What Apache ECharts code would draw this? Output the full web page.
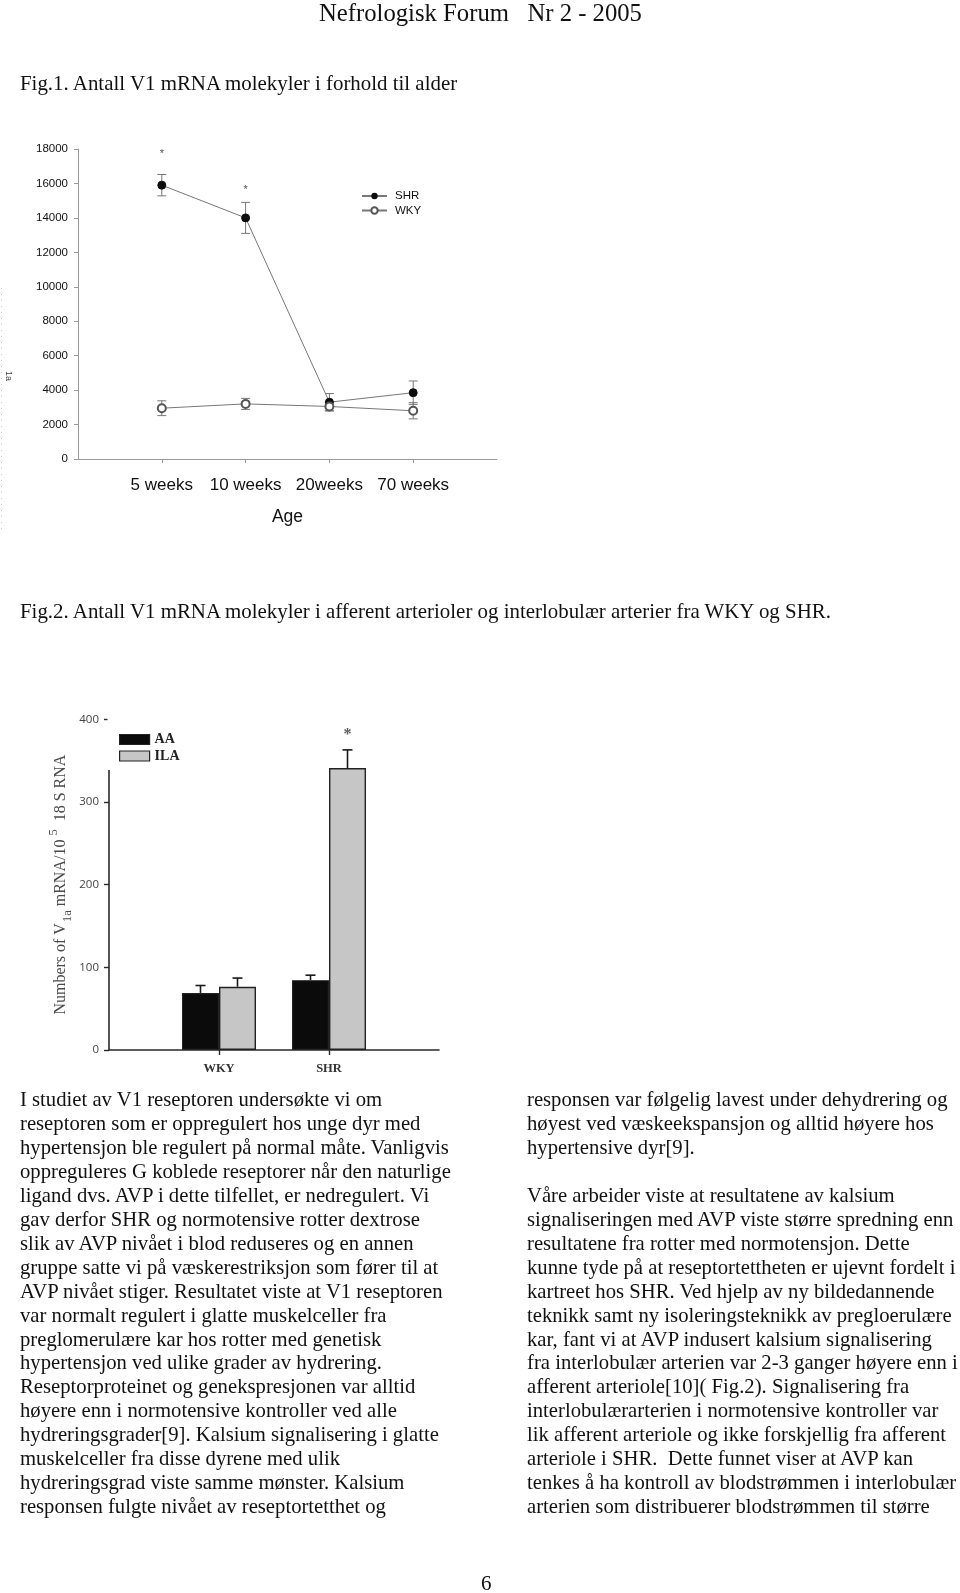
<!DOCTYPE html>
<html>
<head>
<meta charset="utf-8">
<script src="https://cdn.jsdelivr.net/npm/echarts@6/dist/echarts.min.js"></script>
<style>
  html, body { margin: 0; padding: 0; background: #fff; }
  #page { position: relative; width: 960px; height: 1593px; overflow: hidden; background: #fff; }
  #chart { position: absolute; left: 0; top: 0; width: 960px; height: 1593px; }
  .t { position: absolute; font-family: "Liberation Serif", "Times New Roman", serif; color: #111; white-space: pre; }
  .body { font-size: 20.7px; line-height: 23.95px; }
</style>
</head>
<body>
<div id="page">
  <div id="chart"></div>
  <div class="t" style="left:319px;top:-1px;font-size:24.7px;line-height:28px;">Nefrologisk Forum&nbsp;&nbsp;&nbsp;Nr 2 - 2005</div>
  <div class="t" style="left:20px;top:70px;font-size:20.9px;line-height:26px;">Fig.1. Antall V1 mRNA molekyler i forhold til alder</div>
  <div class="t" style="left:20px;top:598px;font-size:20.9px;line-height:26px;">Fig.2. Antall V1 mRNA molekyler i afferent arterioler og interlobulær arterier fra WKY og SHR.</div>
  <div class="t body" style="left:20px;top:1088px;">I studiet av V1 reseptoren undersøkte vi om
reseptoren som er oppregulert hos unge dyr med
hypertensjon ble regulert på normal måte. Vanligvis
oppreguleres G koblede reseptorer når den naturlige
ligand dvs. AVP i dette tilfellet, er nedregulert. Vi
gav derfor SHR og normotensive rotter dextrose
slik av AVP nivået i blod reduseres og en annen
gruppe satte vi på væskerestriksjon som fører til at
AVP nivået stiger. Resultatet viste at V1 reseptoren
var normalt regulert i glatte muskelceller fra
preglomerulære kar hos rotter med genetisk
hypertensjon ved ulike grader av hydrering.
Reseptorproteinet og genekspresjonen var alltid
høyere enn i normotensive kontroller ved alle
hydreringsgrader[9]. Kalsium signalisering i glatte
muskelceller fra disse dyrene med ulik
hydreringsgrad viste samme mønster. Kalsium
responsen fulgte nivået av reseptortetthet og</div>
  <div class="t body" style="left:527px;top:1088px;">responsen var følgelig lavest under dehydrering og
høyest ved væskeekspansjon og alltid høyere hos
hypertensive dyr[9].

Våre arbeider viste at resultatene av kalsium
signaliseringen med AVP viste større spredning enn
resultatene fra rotter med normotensjon. Dette
kunne tyde på at reseptortettheten er ujevnt fordelt i
kartreet hos SHR. Ved hjelp av ny bildedannende
teknikk samt ny isoleringsteknikk av pregloerulære
kar, fant vi at AVP indusert kalsium signalisering
fra interlobulær arterien var 2-3 ganger høyere enn i
afferent arteriole[10]( Fig.2). Signalisering fra
interlobulærarterien i normotensive kontroller var
lik afferent arteriole og ikke forskjellig fra afferent
arteriole i SHR.  Dette funnet viser at AVP kan
tenkes å ha kontroll av blodstrømmen i interlobulær
arterien som distribuerer blodstrømmen til større</div>
  <div class="t" style="left:481px;top:1570px;font-size:21px;line-height:26px;">6</div>
</div>
<script>
// ---------- Fig. 1 data ----------
const ages = ['5 weeks', '10 weeks', '20weeks', '70 weeks'];
const shrMean = [15900, 14000, 3300, 3850];
const shrErr = [620, 900, 500, 680];
const wkyMean = [2950, 3200, 3050, 2800];
const wkyErr = [430, 320, 260, 470];
const fig1Stars = [17700, 15600, null, null];
const fig1YMax = 18000;
const fig1YStep = 2000;

// ---------- Fig. 2 data ----------
const groups = ['WKY', 'SHR'];
const aaMean = [69, 84.5];
const aaErr = [9, 6];
const ilaMean = [76.5, 341];
const ilaErr = [10.5, 22];
const fig2Stars = [null, 381];
const fig2YMax = 400;
const fig2YStep = 100;

// ---------- build ----------
const pad = arr => [null, ...arr, null];
const cats1 = ['', ...ages, ''];
const cats2 = ['', ...groups, ''];
const BARW = 37;

function errData(means, errs) {
  return means.map((m, i) => [i + 1, m - errs[i], m + errs[i]]);
}
function starData(vals) {
  return vals.map((v, i) => v == null ? null : [i + 1, v]).filter(d => d);
}

function errRender1(color) {
  return function (params, api) {
    const x = api.value(0);
    const lo = api.coord([x, api.value(1)]);
    const hi = api.coord([x, api.value(2)]);
    const h = 4.5;
    const st = { stroke: color, lineWidth: 1 };
    return { type: 'group', children: [
      { type: 'line', shape: { x1: lo[0], y1: lo[1], x2: hi[0], y2: hi[1] }, style: st },
      { type: 'line', shape: { x1: lo[0] - h, y1: lo[1], x2: lo[0] + h, y2: lo[1] }, style: st },
      { type: 'line', shape: { x1: hi[0] - h, y1: hi[1], x2: hi[0] + h, y2: hi[1] }, style: st }
    ]};
  };
}
function errRender2(offset) {
  return function (params, api) {
    const x = api.value(0);
    const base = api.coord([x, api.value(1)]);
    const top = api.coord([x, api.value(2)]);
    const cx = base[0] + offset;
    const h = 5;
    const st = { stroke: '#1a1a1a', lineWidth: 1.6 };
    return { type: 'group', children: [
      { type: 'line', shape: { x1: cx, y1: base[1], x2: cx, y2: top[1] }, style: st },
      { type: 'line', shape: { x1: cx - h, y1: top[1], x2: cx + h, y2: top[1] }, style: st }
    ]};
  };
}

const chart = echarts.init(document.getElementById('chart'), null, { renderer: 'canvas' });
const sans = 'Liberation Sans, Arial, sans-serif';
const serif = 'Liberation Serif, Times New Roman, serif';

const option = {
  animation: false,
  backgroundColor: 'transparent',
  grid: [
    { left: 78, top: 149, width: 419, height: 310 },
    { left: 109, top: 719.3, width: 330, height: 330.7 }
  ],
  legend: [
    {
      data: ['SHR', 'WKY'], left: 361, top: 190, orient: 'vertical', padding: 0,
      itemWidth: 25, itemHeight: 8, itemGap: 2.5,
      textStyle: { fontFamily: sans, fontSize: 11.5, color: '#111', padding: [0, 0, 0, 3] }
    },
    {
      data: [
        { name: 'AA', itemStyle: { color: '#0b0b0b', borderColor: '#222', borderWidth: 1.2 } },
        { name: 'ILA', itemStyle: { color: '#c6c6c6', borderColor: '#222', borderWidth: 1.2 } }
      ],
      left: 119, top: 732.5, orient: 'vertical', icon: 'rect', padding: 0,
      itemWidth: 30, itemHeight: 10, itemGap: 2.5,
      textStyle: { fontFamily: serif, fontSize: 14, color: '#222', fontWeight: 'bold' }
    }
  ],
  xAxis: [
    {
      gridIndex: 0, type: 'category', data: cats1, boundaryGap: false,
      axisLine: { lineStyle: { color: '#9a9a9a', width: 1 } },
      axisTick: { show: true, length: 4, interval: (i, v) => v !== '', lineStyle: { color: '#9a9a9a' } },
      axisLabel: { interval: 0, fontFamily: sans, fontSize: 17, color: '#111', margin: 18 },
      name: 'Age', nameLocation: 'middle', nameGap: 49,
      nameTextStyle: { fontFamily: sans, fontSize: 17.5, color: '#111' }
    },
    {
      gridIndex: 1, type: 'category', data: cats2, boundaryGap: false,
      axisLine: { lineStyle: { color: '#2a2a2a', width: 1.6 } },
      axisTick: { show: true, length: 5, interval: (i, v) => v !== '', lineStyle: { color: '#2a2a2a', width: 1.4 } },
      axisLabel: { interval: 0, fontFamily: serif, fontSize: 12.5, fontWeight: 'bold', color: '#333', margin: 12 }
    }
  ],
  yAxis: [
    {
      gridIndex: 0, type: 'value', min: 0, max: fig1YMax, interval: fig1YStep,
      splitLine: { show: false },
      axisLine: { show: true, lineStyle: { color: '#9a9a9a', width: 1 } },
      axisTick: { show: true, length: 4, lineStyle: { color: '#9a9a9a' } },
      axisLabel: { fontFamily: sans, fontSize: 11.5, color: '#111', margin: 10, formatter: v => String(v) }
    },
    {
      gridIndex: 1, type: 'value', min: 0, max: fig2YMax, interval: fig2YStep,
      splitLine: { show: false },
      axisLine: { show: true, lineStyle: { color: '#2a2a2a', width: 1.6 } },
      axisTick: { show: true, length: 5, lineStyle: { color: '#2a2a2a', width: 1.4 } },
      axisLabel: { fontFamily: 'Open Sans, sans-serif', fontSize: 11.5, color: '#444', margin: 10 },
      name: '{a|Numbers of V}{sub|1a}{a| mRNA/10 }{sup|5}{a|  18 S RNA}',
      nameLocation: 'middle', nameRotate: 90, nameGap: 37,
      nameTextStyle: {
        rich: {
          a: { fontFamily: serif, fontSize: 16, color: '#4a4a4a', lineHeight: 22, verticalAlign: 'middle' },
          sub: { fontFamily: serif, fontSize: 12.5, color: '#4a4a4a', lineHeight: 22, verticalAlign: 'bottom', padding: [0, 0, -2, 1] },
          sup: { fontFamily: serif, fontSize: 12.5, color: '#4a4a4a', lineHeight: 22, verticalAlign: 'top', padding: [-3, 0, 0, 0] }
        }
      }
    }
  ],
  series: [
    // Fig 1 error bars
    {
      type: 'custom', name: 'SHR err', xAxisIndex: 0, yAxisIndex: 0, z: 1,
      renderItem: errRender1('#777'), data: errData(shrMean, shrErr), silent: true
    },
    {
      type: 'custom', name: 'WKY err', xAxisIndex: 0, yAxisIndex: 0, z: 1,
      renderItem: errRender1('#777'), data: errData(wkyMean, wkyErr), silent: true
    },
    {
      type: 'line', name: 'SHR', xAxisIndex: 0, yAxisIndex: 0, z: 3,
      data: pad(shrMean), symbol: 'circle', symbolSize: 8,
      lineStyle: { color: '#777', width: 1 },
      itemStyle: { color: '#0d0d0d', borderColor: '#0d0d0d' }
    },
    {
      type: 'line', name: 'WKY', xAxisIndex: 0, yAxisIndex: 0, z: 3,
      data: pad(wkyMean), symbol: 'emptyCircle', symbolSize: 8,
      lineStyle: { color: '#777', width: 1 },
      itemStyle: { color: '#555', borderColor: '#555', borderWidth: 1 }
    },
    {
      type: 'scatter', name: 'fig1 sig', xAxisIndex: 0, yAxisIndex: 0,
      data: starData(fig1Stars), symbolSize: 0,
      label: { show: true, formatter: '*', position: 'inside', fontFamily: sans, fontSize: 11, color: '#222' }
    },
    // Fig 2 bars
    {
      type: 'bar', name: 'AA', xAxisIndex: 1, yAxisIndex: 1, z: 2,
      data: pad(aaMean), barWidth: BARW, barGap: '0%',
      itemStyle: { color: '#0b0b0b', borderColor: '#222', borderWidth: 1.2 }
    },
    {
      type: 'bar', name: 'ILA', xAxisIndex: 1, yAxisIndex: 1, z: 2,
      data: pad(ilaMean), barWidth: BARW, barGap: '0%',
      itemStyle: { color: '#c6c6c6', borderColor: '#222', borderWidth: 1.4 }
    },
    {
      type: 'custom', name: 'AA err', xAxisIndex: 1, yAxisIndex: 1, z: 1,
      renderItem: errRender2(-BARW / 2), data: aaMean.map((m, i) => [i + 1, m, m + aaErr[i]]), silent: true
    },
    {
      type: 'custom', name: 'ILA err', xAxisIndex: 1, yAxisIndex: 1, z: 1,
      renderItem: errRender2(BARW / 2), data: ilaMean.map((m, i) => [i + 1, m, m + ilaErr[i]]), silent: true
    },
    {
      type: 'scatter', name: 'fig2 sig', xAxisIndex: 1, yAxisIndex: 1,
      data: fig2Stars.map((v, i) => v == null ? null : [i + 1, v]).filter(d => d),
      symbolSize: 0, symbolOffset: [BARW / 2, 0],
      label: { show: true, formatter: '*', position: 'inside', fontFamily: serif, fontSize: 16, fontWeight: 'bold', color: '#333' }
    }
  ],
  graphic: [
    { type: 'rect', shape: { x: 107.5, y: 714, width: 4, height: 56 }, style: { fill: '#fff' }, z: 100 },
    { type: 'line', shape: { x1: 1.5, y1: 288, x2: 1.5, y2: 530 }, style: { stroke: '#c8c8c8', lineWidth: 1, lineDash: [1, 5] }, z: 100 },
    { type: 'text', x: 13, y: 371, rotation: -Math.PI / 2, style: { text: '1a', fontFamily: sans, fontSize: 9, fill: '#444' }, z: 100 }
  ]
};
chart.setOption(option);
</script>
</body>
</html>
